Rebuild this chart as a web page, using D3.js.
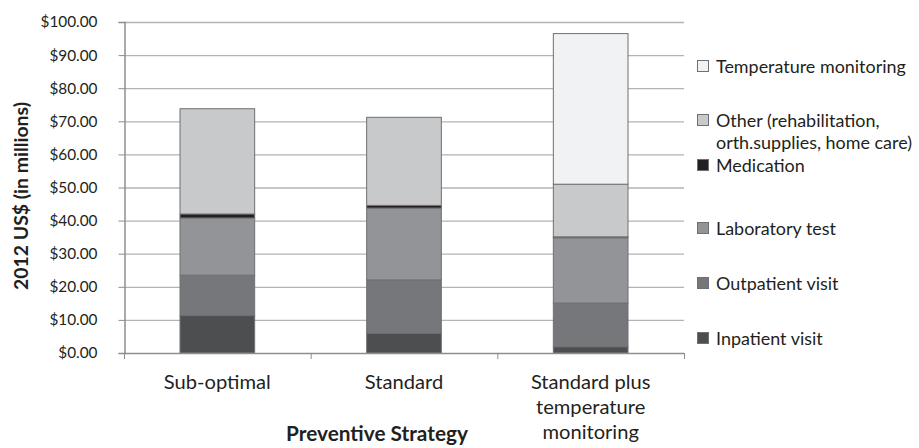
<!DOCTYPE html>
<html><head><meta charset="utf-8">
<script src="https://cdn.jsdelivr.net/npm/d3@7"></script>
<style>body{margin:0;background:#fff}svg{display:block}text{font-family:Lato,"Open Sans",sans-serif;fill:#231f20}</style>
</head><body>
<svg id="c" width="919" height="448"></svg>
<script>
const categories = ["Sub-optimal", "Standard", "Standard plus temperature monitoring"];
const categoryLines = [["Sub-optimal"], ["Standard"], ["Standard plus", "temperature", "monitoring"]];
const seriesNames = ["Inpatient visit", "Outpatient visit", "Laboratory test", "Medication", "Other (rehabilitation, orth.supplies, home care)", "Temperature monitoring"];
const legendLines = [["Inpatient visit"], ["Outpatient visit"], ["Laboratory test"], ["Medication"], ["Other (rehabilitation,", "orth.supplies, home care)"], ["Temperature monitoring"]];
const inpatient = [11.3, 6.0, 1.9];
const outpatient = [12.2, 16.1, 13.2];
const laboratory = [17.3, 21.7, 19.7];
const medication = [1.2, 0.8, 0.3];
const other = [31.8, 26.6, 15.9];
const temperature = [0, 0, 45.5];
const yTicks = [0, 10, 20, 30, 40, 50, 60, 70, 80, 90, 100];
const colors = ["#4d4e50", "#76777b", "#939497", "#231f20", "#c8c9cb", "#f1f2f4"];

const series = [inpatient, outpatient, laboratory, medication, other, temperature];
const rows = categories.map((c, i) => {
  const r = {cat: c};
  seriesNames.forEach((s, j) => r[s] = series[j][i]);
  return r;
});
const stacked = d3.stack().keys(seriesNames)(rows);

const svg = d3.select("#c");
const L = 124, R = 684, T = 22, B = 353;
const x = d3.scaleBand().domain(categories).range([L, R]).paddingInner(0.6).paddingOuter(0.3);
const y = d3.scaleLinear().domain([0, 100]).range([B, T]);

function fit(sel, refNode, target, base) {
  sel.style("font-size", base + "px");
  const w = refNode.getComputedTextLength();
  const fs = base * target / w;
  sel.style("font-size", fs + "px");
  return fs;
}

// gridlines
svg.append("g").selectAll("line").data(yTicks.filter(t => t > 0)).join("line")
  .attr("x1", L).attr("x2", R).attr("y1", d => y(d) + 0.5).attr("y2", d => y(d) + 0.5)
  .attr("stroke", "#b3b3b5").attr("stroke-width", 1.3);

// y axis
const ya = svg.append("g").attr("transform", `translate(${L + 0.5},0)`)
  .call(d3.axisLeft(y).tickValues(yTicks).tickSize(6).tickPadding(21).tickFormat(d => "$" + d3.format(".2f")(d)));
ya.select(".domain").attr("stroke", "#8d8e91").attr("stroke-width", 1.5);
ya.selectAll(".tick line").attr("stroke", "#8d8e91");
const yt = ya.selectAll(".tick text").style("font-family", "Lato").attr("fill", "#231f20");
fit(yt, yt.nodes()[yt.size() - 1], 57, 15);

// bars
svg.append("g").selectAll("g").data(stacked).join("g")
  .attr("fill", (d, i) => colors[i])
  .selectAll("rect").data(d => d.filter(v => v[1] - v[0] > 0)).join("rect")
  .attr("x", d => x(d.data.cat))
  .attr("width", x.bandwidth())
  .attr("y", d => y(d[1]))
  .attr("height", d => y(d[0]) - y(d[1]))
  .attr("stroke", "#6f7073").attr("stroke-width", 1);

// x axis
const bounds = d3.range(categories.length + 1).map(i => L + (R - L) * i / categories.length);
svg.append("line").attr("x1", L).attr("x2", R).attr("y1", B + 0.5).attr("y2", B + 0.5).attr("stroke", "#8d8e91").attr("stroke-width", 1.5);
svg.append("g").selectAll("line").data(bounds).join("line")
  .attr("x1", d => d + 0.5).attr("x2", d => d + 0.5).attr("y1", B).attr("y2", B + 6).attr("stroke", "#8d8e91");

const xl = svg.append("g");
categories.forEach((c, i) => {
  const t = xl.append("text").attr("text-anchor", "middle").attr("x", x(c) + x.bandwidth() / 2).attr("y", 389);
  categoryLines[i].forEach((ln, k) => {
    t.append("tspan").attr("x", x(c) + x.bandwidth() / 2).attr("dy", k ? 25 : 0).text(ln);
  });
});
fit(xl.selectAll("text"), xl.select("text").node(), 107, 18);

const xt = svg.append("text").attr("x", 377).attr("y", 441).attr("text-anchor", "middle")
  .style("font-weight", "bold").text("Preventive Strategy");
fit(xt, xt.node(), 182, 17);
const ytl = svg.append("text").attr("transform", "translate(28,196) rotate(-90)").attr("text-anchor", "middle")
  .style("font-weight", "bold").text("2012 US$ (in millions)");
fit(ytl, ytl.node(), 188, 17);

// legend
const legendY = [338, 283, 228, 165, 120, 66];
const lg = svg.append("g");
seriesNames.forEach((s, i) => {
  lg.append("rect").attr("x", 697.5).attr("y", legendY[i] - 5.5).attr("width", 11).attr("height", 11)
    .attr("fill", colors[i]).attr("stroke", "#6f7073").attr("stroke-width", 1);
  const t = lg.append("text").attr("x", 716).attr("y", legendY[i] + 6.5);
  legendLines[i].forEach((ln, k) => t.append("tspan").attr("x", 716).attr("dy", k ? 22 : 0).text(ln));
});
const lt = lg.selectAll("text");
fit(lt, lt.nodes()[lt.size() - 1], 190, 17);
</script>
</body></html>
